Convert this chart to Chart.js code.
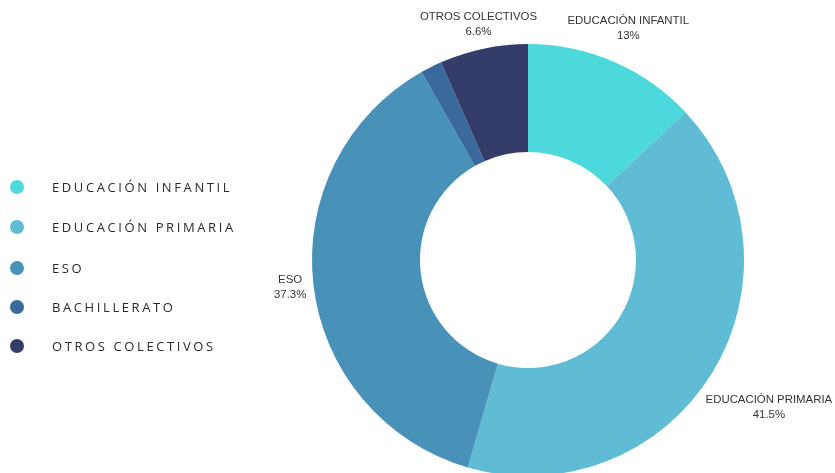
<!DOCTYPE html>
<html>
<head>
<meta charset="utf-8">
<script src="https://cdn.jsdelivr.net/npm/chart.js@4.4.1/dist/chart.umd.min.js"></script>
<style>
  html,body{margin:0;padding:0;background:#fff;overflow:hidden;}
  #wrap{position:relative;width:835px;height:480px;}
  #legend{position:absolute;left:0;top:0;}
  .li{position:absolute;left:10px;display:flex;align-items:center;font-family:"Open Sans",sans-serif;font-size:13px;font-weight:500;letter-spacing:2.6px;color:#2b2b2b;white-space:nowrap;}
  .dot{width:14px;height:14px;border-radius:50%;margin-right:28px;}
</style>
</head>
<body>
<div id="wrap">
  <canvas id="c" width="835" height="480"></canvas>
  <div id="legend"></div>
</div>
<script>
const categories = ["EDUCACIÓN INFANTIL", "EDUCACIÓN PRIMARIA", "ESO", "BACHILLERATO", "OTROS COLECTIVOS"];
const values = [13, 41.5, 37.3, 1.6, 6.6];
const colors = ["#4DD9DB", "#5FBCD4", "#4892B9", "#3A6A9B", "#343C6A"];

// HTML legend
const legend = document.getElementById('legend');
const legendTops = [187, 227, 268, 307, 346];
categories.forEach((c, i) => {
  const d = document.createElement('div');
  d.className = 'li';
  d.style.top = (legendTops[i] - 10) + 'px';
  d.style.height = '20px';
  d.innerHTML = '<span class="dot" style="background:' + colors[i] + '"></span><span>' + c + '</span>';
  legend.appendChild(d);
});

const outsideLabels = {
  id: 'outsideLabels',
  afterDraw(chart) {
    const ctx = chart.ctx;
    const meta = chart.getDatasetMeta(0);
    ctx.save();
    ctx.font = '11.4px "Liberation Sans", Arial, sans-serif';
    ctx.fillStyle = '#333';
    ctx.textAlign = 'center';
    ctx.textBaseline = 'middle';
    const lh = 15;
    meta.data.forEach((arc, i) => {
      if (values[i] < 2) return;
      const p = arc.getProps(['x','y','startAngle','endAngle','outerRadius'], true);
      const mid = (p.startAngle + p.endAngle) / 2;
      const l1 = categories[i];
      const l2 = values[i] + '%';
      const w = Math.max(ctx.measureText(l1).width, ctx.measureText(l2).width) + 2;
      const h = 28;
      const minDist = p.outerRadius + 5;
      let r = p.outerRadius, x, y;
      for (; r < p.outerRadius + 300; r += 0.5) {
        x = p.x + Math.cos(mid) * r;
        y = p.y + Math.sin(mid) * r;
        const qx = Math.min(Math.max(p.x, x - w / 2), x + w / 2);
        const qy = Math.min(Math.max(p.y, y - h / 2), y + h / 2);
        if (Math.hypot(qx - p.x, qy - p.y) >= minDist) break;
      }
      ctx.fillText(l1, x, y - lh / 2);
      ctx.fillText(l2, x, y + lh / 2);
    });
    ctx.restore();
  }
};

new Chart(document.getElementById('c'), {
  type: 'doughnut',
  data: {
    labels: categories,
    datasets: [{
      data: values,
      backgroundColor: colors,
      borderWidth: 0,
      hoverOffset: 0
    }]
  },
  options: {
    responsive: false,
    animation: false,
    cutout: '50%',
    layout: { padding: { top: 44, bottom: 4, left: 312, right: 91 } },
    plugins: {
      legend: { display: false },
      tooltip: { enabled: false }
    }
  },
  plugins: [outsideLabels]
});
</script>
</body>
</html>
